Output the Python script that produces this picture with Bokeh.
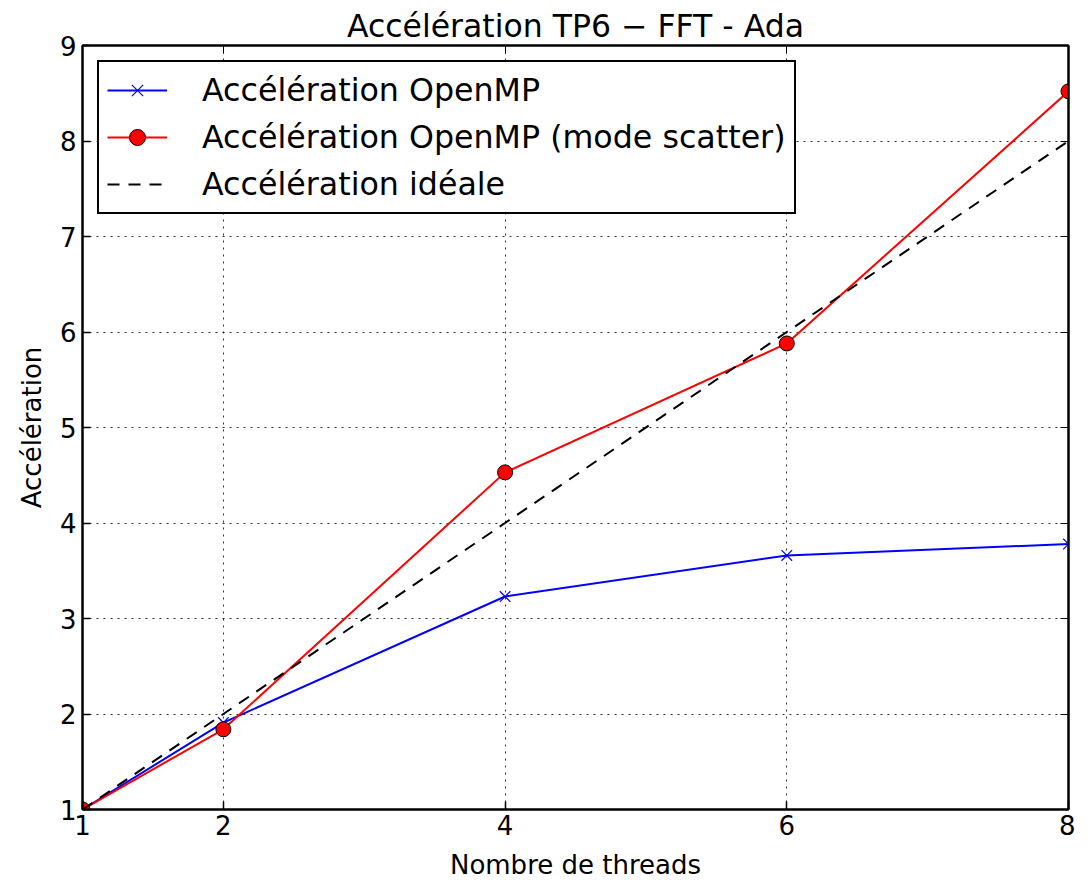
from bokeh.plotting import figure
from bokeh.models import Range1d, FixedTicker, LinearAxis, Legend, LegendItem
from bokeh.embed import file_html
from bokeh.resources import INLINE

threads = [1, 2, 4, 6, 8]
acc_openmp = [1.0, 1.91, 3.23, 3.66, 3.78]
acc_scatter = [1.0, 1.84, 4.53, 5.88, 8.52]
acc_ideal = [1, 2, 4, 6, 8]
x_ticks = [1, 2, 4, 6, 8]
y_ticks = [1, 2, 3, 4, 5, 6, 7, 8, 9]

FONT = "DejaVu Sans"

p = figure(width=1075, height=882, output_backend="svg", toolbar_location=None,
           x_range=Range1d(1, 8), y_range=Range1d(1, 9),
           min_border_left=82, min_border_right=7, min_border_top=45, min_border_bottom=72)
p.title.text = "Accélération TP6 − FFT - Ada"
p.title.text_font = FONT
p.title.text_font_size = "31.5px"
p.title.text_font_style = "normal"
p.title.text_color = "black"
p.title.align = "center"
p.title.offset = 0
p.title.standoff = 4

p.xaxis.axis_label = "Nombre de threads"
p.yaxis.axis_label = "Accélération"
for ax in [p.xaxis[0], p.yaxis[0]]:
    ax.axis_label_text_font = FONT
    ax.axis_label_text_font_size = "26px"
    ax.axis_label_text_font_style = "normal"
    ax.axis_label_text_color = "black"
    ax.major_label_text_font = FONT
    ax.major_label_text_font_size = "26px"
    ax.major_label_text_color = "black"
    ax.major_tick_in = 8
    ax.major_tick_out = 0
    ax.minor_tick_in = 0
    ax.minor_tick_out = 0
    ax.axis_line_color = "black"
    ax.axis_line_width = 2
    ax.major_tick_line_width = 1.5
p.xaxis[0].ticker = FixedTicker(ticks=x_ticks)
p.yaxis[0].ticker = FixedTicker(ticks=y_ticks)
p.xaxis[0].axis_label_standoff = 12
p.yaxis[0].axis_label_standoff = 10
p.xaxis[0].major_label_standoff = 5
p.yaxis[0].major_label_standoff = 6

top = LinearAxis(ticker=FixedTicker(ticks=x_ticks),
                 major_label_overrides={t: "" for t in x_ticks},
                 major_label_text_font_size="1px",
                 major_tick_in=8, major_tick_out=0, minor_tick_in=0, minor_tick_out=0,
                 axis_line_width=2, major_label_standoff=0)
right = LinearAxis(ticker=FixedTicker(ticks=y_ticks),
                   major_label_overrides={t: "" for t in y_ticks},
                   major_label_text_font_size="1px",
                   major_tick_in=8, major_tick_out=0, minor_tick_in=0, minor_tick_out=0,
                   axis_line_width=2, major_label_standoff=0)
p.add_layout(top, "above")
p.add_layout(right, "right")

p.xgrid.ticker = FixedTicker(ticks=x_ticks)
p.ygrid.ticker = FixedTicker(ticks=y_ticks)
for g in [p.xgrid[0], p.ygrid[0]]:
    g.grid_line_color = "black"
    g.grid_line_dash = "2 5"
    g.grid_line_width = 1
    g.grid_line_alpha = 0.8
p.outline_line_color = "black"
p.outline_line_width = 2
p.background_fill_color = "white"
p.border_fill_color = "white"

l1 = p.line(threads, acc_openmp, line_color="blue", line_width=2)
s1 = p.scatter(threads, acc_openmp, marker="x", size=15, line_color="blue", line_width=1.2)
l2 = p.line(threads, acc_scatter, line_color="red", line_width=2)
s2 = p.scatter(threads, acc_scatter, marker="circle", size=15, fill_color="red",
               line_color="black", line_width=1)
l3 = p.line(threads, acc_ideal, line_color="black", line_width=2, line_dash="12 9")

legend = Legend(items=[
    LegendItem(label="Accélération OpenMP", renderers=[l1, s1]),
    LegendItem(label="Accélération OpenMP (mode scatter)", renderers=[l2, s2]),
    LegendItem(label="Accélération idéale", renderers=[l3]),
], location="top_left")
legend.label_text_font = FONT
legend.label_text_font_size = "31.7px"
legend.label_text_color = "black"
legend.border_line_color = "black"
legend.border_line_alpha = 1
legend.border_line_width = 2
legend.glyph_width = 60
legend.glyph_height = 40
legend.label_height = 40
legend.spacing = 7
legend.padding = 8
legend.margin = 15
legend.label_standoff = 35
legend.background_fill_alpha = 1
p.add_layout(legend)

open("out.html", "w").write(file_html(p, INLINE))
